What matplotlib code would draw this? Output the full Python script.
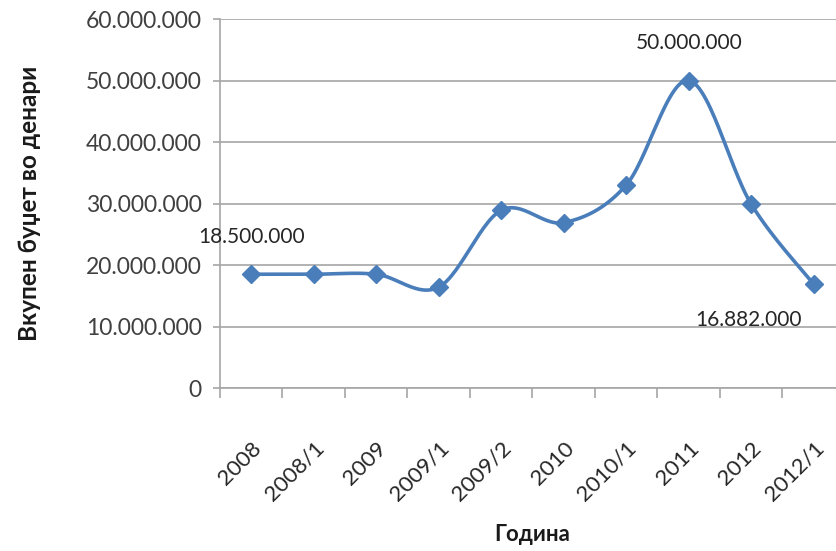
import numpy as np
import matplotlib.pyplot as plt
from matplotlib.ticker import FuncFormatter, FixedLocator

# data
periods = ['2008', '2008/1', '2009', '2009/1', '2009/2', '2010',
           '2010/1', '2011', '2012', '2012/1']
budget = [18500000, 18500000, 18500000, 16400000, 28900000, 26900000,
          33000000, 50000000, 29900000, 16882000]
labelled = {0: (0, 27), 7: (0, 27), 9: (-47, -26)}

plt.rcParams['font.family'] = ['Lato', 'DejaVu Sans']
blue = '#4a7ebb'
grey = '#a6a6a6'


def dots(v, pos=None):
    return f'{int(round(v)):,}'.replace(',', '.')


def smooth(xs, ys, n=30):
    # Excel-like smoothing: cubic Bezier through points, Catmull-Rom controls
    xs = np.asarray(xs, float)
    ys = np.asarray(ys, float)
    px = np.concatenate([[xs[0]], xs, [xs[-1]]])
    py = np.concatenate([[ys[0]], ys, [ys[-1]]])
    ox, oy = [], []
    t = np.linspace(0, 1, n)
    for i in range(1, len(px) - 2):
        p0 = np.array([px[i], py[i]])
        p3 = np.array([px[i + 1], py[i + 1]])
        c1 = p0 + (p3 - np.array([px[i - 1], py[i - 1]])) / 6
        c2 = p3 - (np.array([px[i + 2], py[i + 2]]) - p0) / 6
        b = ((1 - t) ** 3)[:, None] * p0 + (3 * (1 - t) ** 2 * t)[:, None] * c1 \
            + (3 * (1 - t) * t ** 2)[:, None] * c2 + (t ** 3)[:, None] * p3
        ox.extend(b[:, 0])
        oy.extend(b[:, 1])
    return ox, oy


fig = plt.figure(figsize=(8.37, 5.51), dpi=100)
ax = fig.add_axes([0.2628, 0.2958, 0.7467, 0.6697])

x = np.arange(len(periods))
sx, sy = smooth(x, budget)
ax.plot(sx, sy, color=blue, lw=2.6, solid_capstyle='round', zorder=3)
ax.plot(x, budget, ls='none', marker='D', ms=9, color=blue, zorder=4)

for i, (dx, dy) in labelled.items():
    ax.annotate(dots(budget[i]), (x[i], budget[i]), xytext=(dx, dy),
                textcoords='offset points', ha='center', va='center',
                fontsize=15, color='#262626')

ax.set_xlim(-0.5, len(periods) - 0.5)
ax.set_ylim(0, 60000000)
ax.set_yticks(np.arange(0, 60000001, 10000000))
ax.yaxis.set_major_formatter(FuncFormatter(dots))
ax.grid(axis='y', color=grey, lw=1.2)
ax.set_axisbelow(True)

ax.xaxis.set_major_locator(FixedLocator(np.arange(-0.5, len(periods), 1)))
ax.xaxis.set_major_formatter(FuncFormatter(lambda v, p: ''))
ax.set_xticks(x, minor=True)
ax.set_xticklabels(periods, minor=True, rotation=45, ha='right',
                   rotation_mode='anchor', fontsize=16, color='#262626')
ax.tick_params(axis='x', which='minor', length=0, pad=36)
ax.tick_params(axis='x', which='major', length=7, color=grey, width=1.2)
ax.tick_params(axis='y', length=5, color=grey, width=1.2, pad=8,
               labelsize=16.5, labelcolor='#404040')

for s in ['top', 'right']:
    ax.spines[s].set_visible(False)
for s in ['left', 'bottom']:
    ax.spines[s].set_color(grey)
    ax.spines[s].set_linewidth(1.2)

ax.set_ylabel('Вкупен буџет во денари', fontsize=17.5, fontweight='bold',
              labelpad=32, color='#1a1a1a')
ax.set_xlabel('Година', fontsize=16, fontweight='bold', labelpad=14,
              color='#1a1a1a')

fig.savefig('out.png', dpi=100)
